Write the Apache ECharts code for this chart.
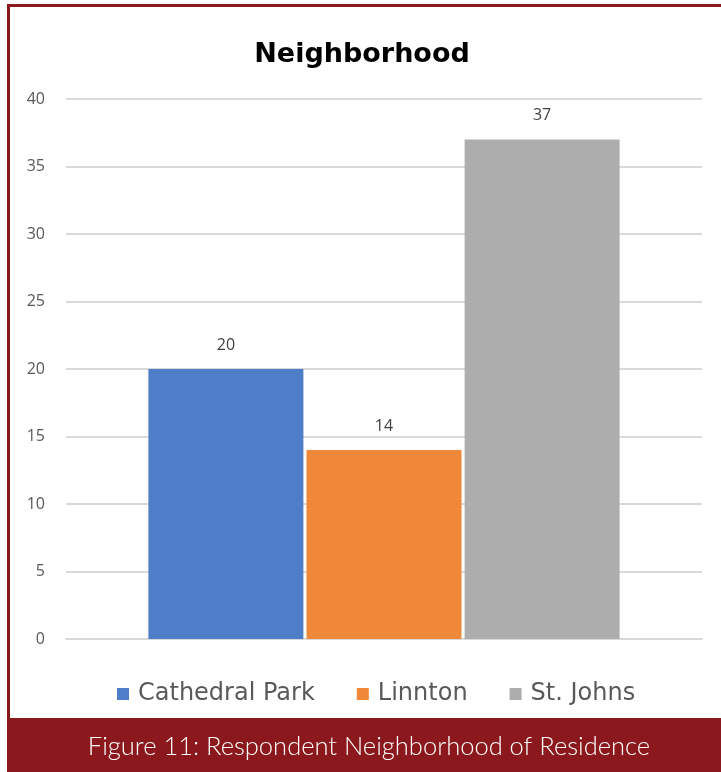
<!DOCTYPE html>
<html>
<head>
<meta charset="utf-8">
<script src="https://cdn.jsdelivr.net/npm/echarts@6/dist/echarts.min.js"></script>
<style>
  html, body { margin: 0; padding: 0; background: #fff; }
  #chart { width: 721px; height: 772px; }
</style>
</head>
<body>
<div id="chart"></div>
<script>
const titleText = "Neighborhood";
const captionText = "Figure 11: Respondent Neighborhood of Residence";
const seriesNames = ["Cathedral Park", "Linnton", "St. Johns"];
const seriesValues = [20, 14, 37];
const seriesColors = ["#4E7EC8", "#EF8839", "#ADADAD"];
const categories = ["Neighborhood"];
const yMin = 0, yMax = 40, yInterval = 5;

const chart = echarts.init(document.getElementById('chart'), null, { renderer: 'canvas' });
const frameColor = "#8A181C";

const series = seriesNames.map((name, i) => ({
  name: name,
  type: 'bar',
  data: [seriesValues[i]],
  barWidth: 155,
  barGap: '2%',
  itemStyle: { color: seriesColors[i] },
  label: {
    show: true,
    position: 'top',
    distance: 16,
    color: '#404040',
    fontFamily: 'Open Sans, Liberation Sans, sans-serif',
    fontSize: 16
  }
}));

chart.setOption({
  backgroundColor: '#ffffff',
  animation: false,
  title: {
    text: titleText,
    left: 357,
    textAlign: 'center',
    top: 36,
    textStyle: { fontFamily: 'DejaVu Sans, Liberation Sans, sans-serif', fontWeight: 'bold', fontSize: 27, color: '#000000' }
  },
  grid: { left: 66, right: 19, top: 99, bottom: 133, containLabel: false },
  legend: {
    data: seriesNames,
    left: 112,
    top: 677,
    itemWidth: 12,
    itemHeight: 12,
    itemGap: 42,
    icon: 'rect',
    textStyle: { color: '#595959', fontSize: 24, fontFamily: 'DejaVu Sans, sans-serif', padding: [0, 0, 0, 4] }
  },
  xAxis: {
    type: 'category',
    data: categories,
    axisLine: { show: true, lineStyle: { color: '#D9D9D9', width: 2 } },
    axisTick: { show: false },
    axisLabel: { show: false }
  },
  yAxis: {
    type: 'value',
    min: yMin, max: yMax, interval: yInterval,
    axisLine: { show: false },
    axisTick: { show: false },
    axisLabel: { color: '#595959', fontSize: 16, margin: 21, fontFamily: 'Open Sans, Liberation Sans, sans-serif' },
    splitLine: { lineStyle: { color: '#D9D9D9', width: 2 } }
  },
  series: series,
  graphic: [
    { type: 'rect', shape: { x: 7, y: 4, width: 714, height: 3 }, style: { fill: frameColor }, silent: true },
    { type: 'rect', shape: { x: 7, y: 4, width: 3, height: 716 }, style: { fill: frameColor }, silent: true },
    { type: 'rect', shape: { x: 7, y: 718, width: 714, height: 54 }, style: { fill: frameColor }, silent: true },
    { type: 'text', x: 369, y: 747, style: { text: captionText, fill: '#ffffff', font: '300 25.5px Lato, "Open Sans", sans-serif', textAlign: 'center', textVerticalAlign: 'middle' }, silent: true }
  ]
});
</script>
</body>
</html>
